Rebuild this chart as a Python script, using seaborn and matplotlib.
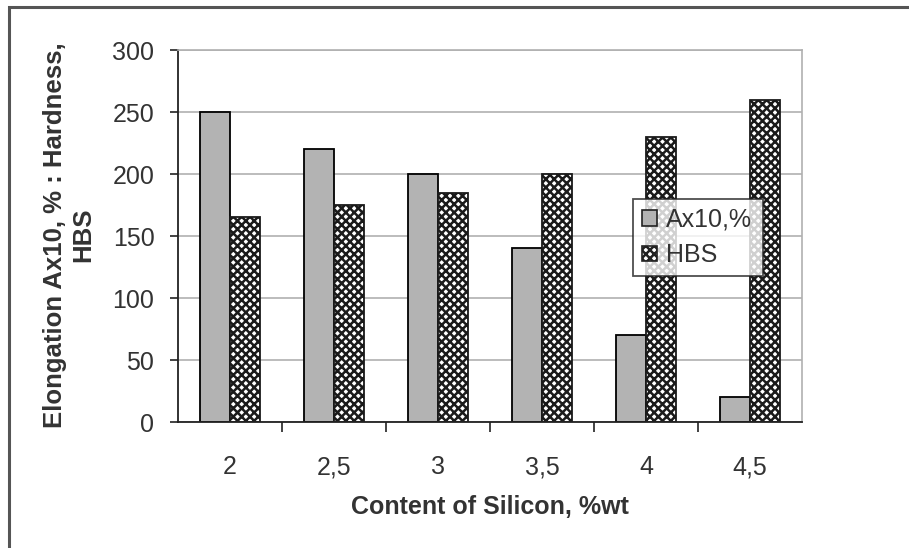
import matplotlib
matplotlib.use("Agg")
import matplotlib.pyplot as plt
import seaborn as sns
import pandas as pd
import numpy as np
from matplotlib.patches import Rectangle, Patch
from matplotlib.ticker import FixedLocator

categories = ["2", "2,5", "3", "3,5", "4", "4,5"]
elongation = [250, 220, 200, 140, 70, 20]
hardness = [165, 175, 185, 200, 230, 260]
series_names = ["Ax10,%", "HBS"]
y_ticks = [0, 50, 100, 150, 200, 250, 300]

df = pd.DataFrame({
    "Si": categories * 2,
    "value": elongation + hardness,
    "series": [series_names[0]] * len(categories) + [series_names[1]] * len(categories),
})

sns.set_style("white")
plt.rcParams["font.family"] = ["Liberation Sans", "DejaVu Sans"]
plt.rcParams["hatch.linewidth"] = 1.8
plt.rcParams["hatch.color"] = "#2a2a2a"

fig = plt.figure(figsize=(9.09, 5.48), dpi=100)
ax = fig.add_axes([178 / 909, 1 - 422 / 548, 624 / 909, 372 / 548])

sns.barplot(data=df, x="Si", y="value", hue="series", order=categories,
            hue_order=series_names, palette=["#b3b3b3", "#ffffff"],
            width=0.58, saturation=1, edgecolor="black", linewidth=1.3,
            ax=ax, legend=False)

n = len(categories)
for i, p in enumerate(ax.patches[:2 * n]):
    if i >= n:
        p.set_hatch("xxxx")
        p.set_edgecolor("#1a1a1a")

ax.set_ylim(0, 300)
ax.set_xlim(-0.5, n - 0.5)
ax.set_yticks(y_ticks)
ax.yaxis.grid(True, color="#b0b0b0", linewidth=1.2)
ax.set_axisbelow(True)

for s in ["top", "right"]:
    ax.spines[s].set_color("#b0b0b0")
    ax.spines[s].set_linewidth(1.2)
for s in ["left", "bottom"]:
    ax.spines[s].set_color("#222222")
    ax.spines[s].set_linewidth(1.3)

ax.tick_params(axis="y", which="major", direction="out", length=6, width=1.2,
               color="#222222", labelsize=18, labelcolor="#333333", pad=11, left=True)
ax.tick_params(axis="x", which="major", length=0, labelsize=18, labelcolor="#333333", pad=24)
ax.xaxis.set_minor_locator(FixedLocator(np.arange(0.5, n - 0.5, 1.0)))
ax.tick_params(axis="x", which="minor", direction="out", length=7, width=1.2,
               color="#222222", bottom=True)

ax.set_xlabel("")
ax.set_ylabel("")
fig.text(490 / 909, 1 - 507 / 548, "Content of Silicon, %wt", ha="center", va="center",
         fontsize=18, fontweight="bold", color="#333333")
fig.text(69 / 909, 1 - 235 / 548, "Elongation Ax10, % : Hardness,\nHBS",
         rotation=90, ha="center", va="center", multialignment="center",
         fontsize=18.5, fontweight="bold", color="#333333", linespacing=1.25)

handles = [Patch(facecolor="#b3b3b3", edgecolor="#222222", linewidth=1.2),
           Patch(facecolor="#ffffff", edgecolor="#222222", linewidth=1.2, hatch="xxxx")]
leg = ax.legend(handles, series_names, loc="lower left",
                bbox_to_anchor=((633 - 178) / 624, (422 - 276) / 372,
                                (763 - 633) / 624, (276 - 192) / 372),
                mode="expand", borderaxespad=0, frameon=True, fancybox=False,
                fontsize=18, handlelength=0.6, handleheight=0.6,
                handletextpad=0.35, labelspacing=0.45, borderpad=0.35)
leg.get_frame().set_edgecolor("#222222")
leg.get_frame().set_linewidth(1.3)
for t in leg.get_texts():
    t.set_color("#333333")

fig.patches.append(Rectangle((9 / 909, -0.05), 1.2, 1.05 - 7 / 548,
                             transform=fig.transFigure, fill=False,
                             edgecolor="#555555", linewidth=2.2))

fig.savefig("out.png", dpi=100, facecolor="white")
